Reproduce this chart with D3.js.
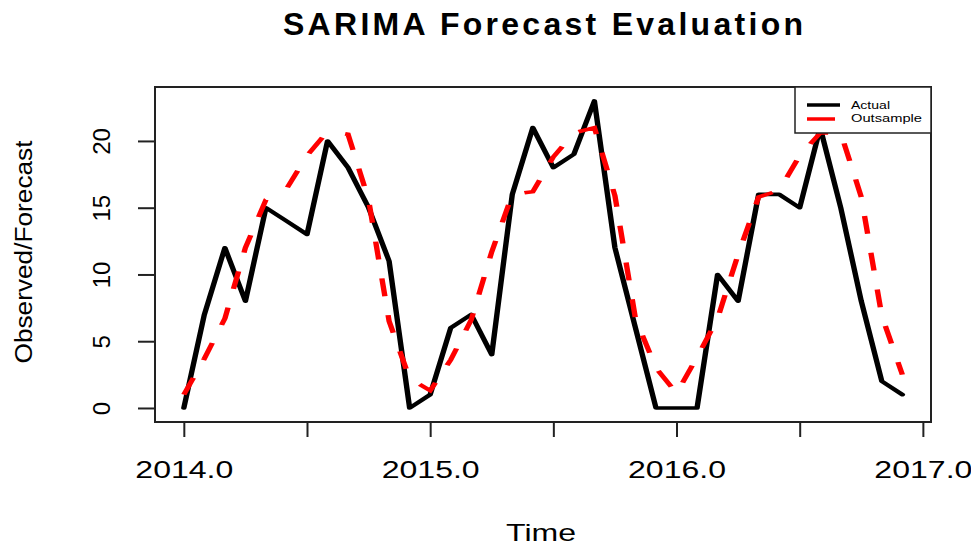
<!DOCTYPE html>
<html>
<head>
<meta charset="utf-8">
<script src="https://d3js.org/d3.v7.min.js"></script>
<style>
  body { margin: 0; background: #fff; }
  text { font-family: "Liberation Sans", Arial, sans-serif; fill: #000; }
</style>
</head>
<body>
<div id="chart"></div>
<script>
// monthly series, starts Jan 2014 (like an R ts with frequency 12)
var tsStart = 2014;
var tsFrequency = 12;

var actual = [0, 7, 12, 8, 15, 14, 13, 20, 18, 15, 11, 0,
  1, 6, 7, 4, 16, 21, 18, 19, 23, 12, 6, 0,
  0, 0, 10, 8, 16, 16, 15, 21, 15, 8, 2, 1];

var outsample = [1.0, 3.7, 6.7, 12.0, 15.6, 16.4, 18.9, 20.7, 20.5, 15.6, 6.5, 2.2,
  1.3, 3.6, 6.6, 11.7, 16.0, 16.2, 18.8, 20.6, 21.0, 15.9, 6.7, 3.0,
  1.1, 3.8, 6.7, 11.5, 15.8, 16.3, 18.9, 20.6, 20.6, 15.8, 6.9, 2.5];

var xTicks = [2014, 2014.5, 2015, 2015.5, 2016, 2016.5, 2017];
var yTicks = [0, 5, 10, 15, 20];
var legendLabels = ["Actual", "Outsample"];

// svg size and plot box
var svgWidth = 971;
var svgHeight = 547;

var box = {
  left: 155,
  top: 87,
  right: 931,
  bottom: 422
};

// the source image is stretched sideways, so lines get drawn in a stretched group
var stretch = 1.5;

var svg = d3
.select("#chart")
.append("svg")
.attr("width", svgWidth)
.attr("height", svgHeight);

// scales (R style 4% padding around the data)
var xScale = d3.scaleLinear()
.domain([2013.883, 2017.033])
.range([box.left, box.right]);

var yScale = d3.scaleLinear()
.domain([-1.05, 24.04])
.range([box.bottom, box.top]);

var timeOf = i => tsStart + i / tsFrequency;

// axes
var bottomAxis = d3.axisBottom(xScale)
.tickValues(xTicks)
.tickSize(15)
.tickSizeOuter(0)
.tickFormat(d => d % 1 === 0 ? d.toFixed(1) : "");

var leftAxis = d3.axisLeft(yScale)
.tickValues(yTicks)
.tickSize(17)
.tickSizeOuter(0);

var xAxis = svg.append("g")
.attr("transform", `translate(0, ${box.bottom})`)
.call(bottomAxis);

xAxis.select(".domain").remove();
xAxis.selectAll("line").attr("stroke", "#222").attr("stroke-width", 2);
xAxis.selectAll("text")
.attr("y", 56)
.attr("dy", 0)
.attr("font-size", "24px")
.attr("font-family", "Liberation Sans, Arial, sans-serif")
.attr("textLength", d => d % 1 === 0 ? 98 : null)
.attr("lengthAdjust", "spacingAndGlyphs");

var yAxis = svg.append("g")
.attr("transform", `translate(${box.left}, 0)`)
.call(leftAxis);

yAxis.select(".domain").remove();
yAxis.selectAll("line").attr("stroke", "#222").attr("stroke-width", 2);
yAxis.selectAll("text")
.attr("transform", "rotate(-90)")
.attr("x", 0)
.attr("y", -45)
.attr("dy", 0)
.attr("text-anchor", "middle")
.attr("font-size", "24px")
.attr("font-family", "Liberation Sans, Arial, sans-serif");

// plot box
svg.append("rect")
.attr("x", box.left)
.attr("y", box.top)
.attr("width", box.right - box.left)
.attr("height", box.bottom - box.top)
.attr("fill", "none")
.attr("stroke", "#222")
.attr("stroke-width", 2);

// lines
var line = d3.line()
.x((d, i) => xScale(timeOf(i)) / stretch)
.y(d => yScale(d));

var linesGroup = svg.append("g")
.attr("transform", `scale(${stretch}, 1)`);

linesGroup.append("path")
.datum(actual)
.attr("d", line)
.attr("fill", "none")
.attr("stroke", "#000")
.attr("stroke-width", 3.6)
.attr("stroke-linejoin", "round")
.attr("stroke-linecap", "round");

linesGroup.append("path")
.datum(outsample)
.attr("d", line)
.attr("fill", "none")
.attr("stroke", "#ff0000")
.attr("stroke-width", 3.6)
.attr("stroke-dasharray", "18,19");

// legend
var legend = svg.append("g");

legend.append("rect")
.attr("x", 795)
.attr("y", box.top)
.attr("width", box.right - 795)
.attr("height", 46)
.attr("fill", "#fff")
.attr("stroke", "#222")
.attr("stroke-width", 1.5);

legend.append("line")
.attr("x1", 807).attr("x2", 840)
.attr("y1", 105).attr("y2", 105)
.attr("stroke", "#000")
.attr("stroke-width", 3.5);

legend.append("line")
.attr("x1", 807).attr("x2", 840)
.attr("y1", 119).attr("y2", 119)
.attr("stroke", "#ff0000")
.attr("stroke-width", 3.5)
.attr("stroke-dasharray", "28,20");

legend.selectAll(".legend-text")
.data(legendLabels)
.enter()
.append("text")
.attr("class", "legend-text")
.attr("x", 851)
.attr("y", (d, i) => 109 + i * 13)
.attr("font-size", "10px")
.attr("textLength", (d, i) => i === 0 ? 39 : 71)
.attr("lengthAdjust", "spacingAndGlyphs")
.text(d => d);

// titles
svg.append("text")
.attr("x", 543)
.attr("y", 35)
.attr("text-anchor", "middle")
.attr("font-size", "32px")
.attr("font-weight", "bold")
.attr("textLength", 520)
.attr("lengthAdjust", "spacing")
.text("SARIMA Forecast Evaluation");

svg.append("text")
.attr("x", 541)
.attr("y", 541)
.attr("text-anchor", "middle")
.attr("font-size", "24px")
.attr("textLength", 70)
.attr("lengthAdjust", "spacingAndGlyphs")
.text("Time");

svg.append("text")
.attr("transform", "translate(32, 252) rotate(-90)")
.attr("text-anchor", "middle")
.attr("font-size", "23px")
.attr("textLength", 223)
.attr("lengthAdjust", "spacingAndGlyphs")
.text("Observed/Forecast");
</script>
</body>
</html>
